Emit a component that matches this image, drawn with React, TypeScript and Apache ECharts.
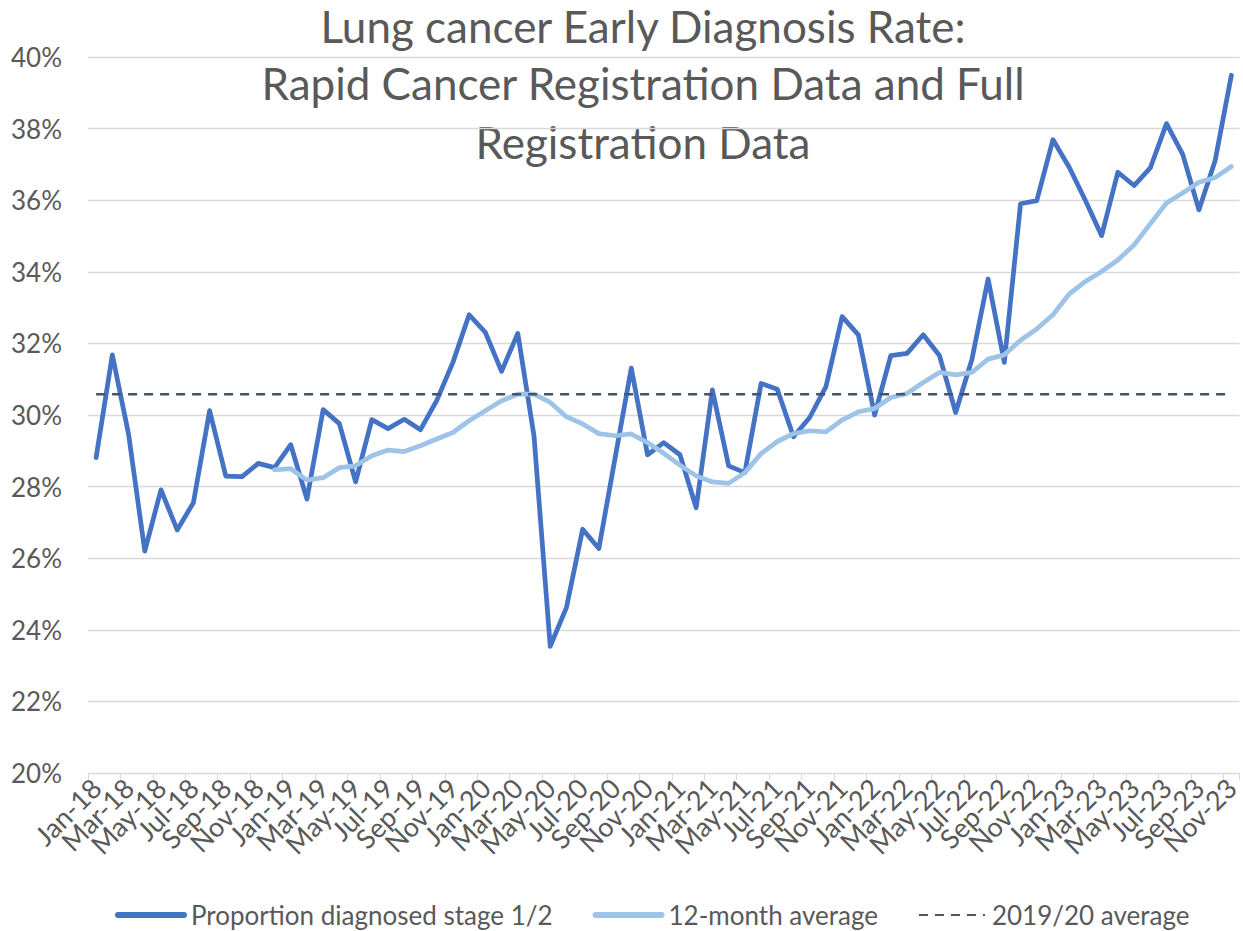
import React, { useEffect, useRef } from "react";
import * as echarts from "echarts";

const MONTHS = ["Jan", "Feb", "Mar", "Apr", "May", "Jun", "Jul", "Aug", "Sep", "Oct", "Nov", "Dec"];
const YEARS = ["18", "19", "20", "21", "22", "23"];
const categories: string[] = YEARS.flatMap((y) => MONTHS.map((m) => `${m}-${y}`)).slice(0, 71);

// Proportion diagnosed stage 1/2 (%) Jan-18 .. Nov-23
const stage12: number[] = [
  28.81, 31.68, 29.47, 26.2, 27.91, 26.79, 27.55, 30.12, 28.29, 28.28, 28.65, 28.53,
  29.17, 27.65, 30.15, 29.76, 28.13, 29.87, 29.62, 29.88, 29.59, 30.4, 31.47, 32.8,
  32.31, 31.22, 32.28, 29.42, 23.54, 24.62, 26.81, 26.27, 28.8, 31.31, 28.89, 29.23,
  28.89, 27.41, 30.7, 28.58, 28.39, 30.88, 30.72, 29.39, 29.93, 30.79, 32.75, 32.24,
  30.0, 31.66, 31.72, 32.24, 31.66, 30.07, 31.55, 33.8, 31.47, 35.9, 35.99, 37.69,
  36.92, 35.99, 35.01, 36.78, 36.41, 36.9, 38.14, 37.28, 35.73, 37.11, 39.49,
];

// 12-month average (%) – begins Dec-18
const avg12: (number | null)[] = [
  null, null, null, null, null, null, null, null, null, null, null,
  28.47, 28.5, 28.18, 28.25, 28.53, 28.58, 28.86, 29.02, 28.98, 29.14, 29.33, 29.51,
  29.84, 30.12, 30.4, 30.58, 30.58, 30.35, 29.95, 29.75, 29.48, 29.42, 29.47, 29.23,
  28.93, 28.6, 28.3, 28.13, 28.09, 28.39, 28.92, 29.26, 29.48, 29.56, 29.53, 29.86,
  30.09, 30.18, 30.49, 30.6, 30.91, 31.19, 31.12, 31.19, 31.56, 31.68, 32.09, 32.4,
  32.8, 33.38, 33.73, 34.01, 34.33, 34.75, 35.34, 35.92, 36.2, 36.5, 36.63, 36.94,
];

const AVG_2019_20 = 30.58;
const baseline: number[] = categories.map(() => AVG_2019_20);

const TITLE_LINES = [
  "Lung cancer Early Diagnosis Rate:",
  "Rapid Cancer Registration Data and Full",
  "Registration Data",
];
const SERIES_NAMES = ["Proportion diagnosed stage 1/2", "12-month average", "2019/20 average"];

const FONT = "Lato, 'Open Sans', sans-serif";
const TEXT = "#595959";
const GRID = "#d9d9d9";

export default function App() {
  const ref = useRef<HTMLDivElement>(null);
  useEffect(() => {
    if (!ref.current) return;
    const chart = echarts.init(ref.current, undefined, { renderer: "svg" });
    const titleY = [26, 82.5, 142];
    chart.setOption({
      animation: false,
      backgroundColor: "#ffffff",
      textStyle: { fontFamily: FONT },
      graphic: TITLE_LINES.map((t, i) => ({
        type: "text",
        x: 643,
        y: titleY[i],
        style: {
          text: t,
          fontFamily: FONT,
          fontSize: 44,
          lineHeight: 40,
          fill: TEXT,
          align: "center",
          verticalAlign: "middle",
        },
      })),
      grid: { left: 88, right: -2, top: 57, bottom: 158, containLabel: false },
      legend: {
        top: 897,
        left: 110,
        itemWidth: 66,
        itemHeight: 14,
        itemGap: 40,
        itemStyle: { opacity: 0 },
        textStyle: { color: TEXT, fontSize: 26, fontFamily: FONT, padding: [0, 0, 0, 2] },
        data: [
          { name: SERIES_NAMES[0], lineStyle: { width: 6, cap: "round" } },
          { name: SERIES_NAMES[1], lineStyle: { width: 6, cap: "round" } },
          { name: SERIES_NAMES[2] },
        ],
      },
      xAxis: {
        type: "category",
        data: categories,
        boundaryGap: true,
        axisLine: { lineStyle: { color: GRID, width: 1 } },
        axisTick: { show: true, interval: 1, length: 7, lineStyle: { color: GRID } },
        axisLabel: {
          interval: 0,
          formatter: (value: string, index: number) => (index % 2 === 0 ? value : ""),
          rotate: 45,
          margin: 10,
          color: TEXT,
          fontSize: 27,
          fontFamily: FONT,
          hideOverlap: false,
        },
        splitLine: { show: false },
      },
      yAxis: {
        type: "value",
        min: 20,
        max: 40,
        interval: 2,
        axisLine: { show: false },
        axisTick: { show: false },
        axisLabel: {
          formatter: "{value}%",
          color: TEXT,
          fontSize: 26,
          fontFamily: FONT,
          margin: 26,
        },
        splitLine: { lineStyle: { color: GRID, width: 1.3 } },
      },
      series: [
        {
          name: SERIES_NAMES[0],
          type: "line",
          data: stage12,
          symbol: "none",
          lineStyle: { color: "#4472C4", width: 4.75, cap: "round", join: "round" },
          itemStyle: { color: "#4472C4" },
        },
        {
          name: SERIES_NAMES[1],
          type: "line",
          data: avg12,
          symbol: "none",
          lineStyle: { color: "#9DC3E6", width: 4.75, cap: "round", join: "round" },
          itemStyle: { color: "#9DC3E6" },
        },
        {
          name: SERIES_NAMES[2],
          type: "line",
          data: baseline,
          symbol: "none",
          lineStyle: { color: "#44546A", width: 2.5, type: [9, 7] },
          itemStyle: { color: "#44546A" },
        },
      ],
    });
    return () => chart.dispose();
  }, []);
  return (
    <div
      ref={ref}
      style={{ position: "absolute", left: 0, top: 0, width: 1243, height: 931 }}
    />
  );
}
